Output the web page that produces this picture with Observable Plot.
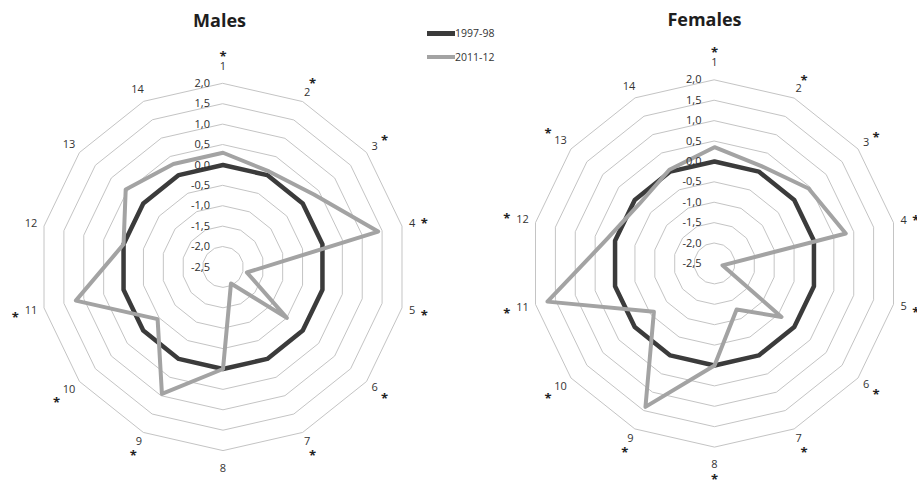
<!DOCTYPE html>
<html><head><meta charset="utf-8">
<script src="https://cdn.jsdelivr.net/npm/d3@7"></script>
<script src="https://cdn.jsdelivr.net/npm/@observablehq/plot@0.6"></script>
<style>
body{margin:0;background:#fff;}
#wrap{position:relative;width:917px;height:481px;font-family:"Open Sans",sans-serif;overflow:hidden;}
#wrap svg{position:absolute;left:0;top:0;}
.title{position:absolute;font-weight:bold;font-size:18px;line-height:18px;color:#1e1e1e;transform:translateX(-50%);white-space:nowrap;}
.leg{position:absolute;display:flex;align-items:center;height:14px;font-size:10.5px;color:#333;}
.leg span.sw{display:inline-block;width:28px;}
</style></head><body><div id="wrap"></div>
<script>
// ---- data ----
const axes = ["1","2","3","4","5","6","7","8","9","10","11","12","13","14"];
const ticks = [2.0, 1.5, 1.0, 0.5, 0.0, -0.5, -1.0, -1.5, -2.0, -2.5];
const seriesNames = ["1997-98", "2011-12"];
const males9798   = [0,0,0,0,0,0,0,0,0,0,0,0,0,0];
const males1112   = [0.3, 0.1, 0.35, 1.4, -1.9, -0.5, -2.05, 0.0, 0.95, -0.45, 1.2, 0.0, 0.55, 0.3];
const females9798 = [0,0,0,0,0,0,0,0,0,0,0,0,0,0];
const females1112 = [0.35, 0.15, 0.45, 0.8, -2.3, -0.4, -1.25, 0.0, 1.4, -0.6, 1.7, 0.2, -0.15, 0.05];
const malesStars   = ["1","2","3","4","5","6","7","9","10","11"];
const femalesStars = ["1","2","3","4","5","6","7","8","9","10","11","12","13"];

// ---- layout ----
const W = 917, H = 481;
const k = 40.8;                 // px per unit
const rMin = -2.5, rMax = 2.0;
const refX = 222.5, refY = 266.5;
const panels = [
  {name:"Males",   cx:222.5, cy:266.5, data:[males9798, males1112],   stars:malesStars},
  {name:"Females", cx:714,   cy:263,   data:[females9798, females1112], stars:femalesStars}
];
const n = axes.length;
const ang = i => i * 2 * Math.PI / n;
const X = (p, r, i) => (p.cx - refX) / k + r * Math.sin(ang(i));
const Y = (p, r, i) => (refY - p.cy) / k + r * Math.cos(ang(i));
// label distance (px) from centre: vertical axes sit a little further out, two-digit labels too
const labelPx = (a, i) => 194 + 3 * (a.length - 1) + (Math.abs(Math.sin(ang(i))) < 0.01 ? 7 : 0);

const rings = [], lines = [], tickLabels = [], catLabels = [], stars = [];
for (const p of panels) {
  for (const t of ticks) {
    if (t === rMin) continue;
    axes.forEach((a, i) => rings.push({x: X(p, t - rMin, i), y: Y(p, t - rMin, i), z: p.name + t}));
  }
  p.data.forEach((vals, s) => {
    vals.forEach((v, i) => lines.push({x: X(p, v - rMin, i), y: Y(p, v - rMin, i), z: p.name, series: seriesNames[s]}));
  });
  for (const t of ticks) {
    tickLabels.push({x: X(p, 0, 0), y: Y(p, t - rMin, 0), text: t.toFixed(1).replace(".", ",")});
  }
  axes.forEach((a, i) => {
    const lr = labelPx(a, i) / k;
    catLabels.push({x: X(p, lr, i), y: Y(p, lr, i), text: a});
    if (p.stars.includes(a)) {
      const rr = (labelPx(a, i) + (a.length === 1 ? 12.5 : 16)) / k;
      stars.push({x: X(p, rr, i), y: Y(p, rr, i)});
    }
  });
}

const plot = Plot.plot({
  width: W, height: H, margin: 0,
  x: {domain: [-refX / k, (W - refX) / k], axis: null},
  y: {domain: [(refY - H) / k, refY / k], axis: null},
  style: {fontFamily: '"Open Sans", sans-serif', background: "transparent"},
  marks: [
    Plot.line(rings, {x: "x", y: "y", z: "z", curve: "linear-closed", stroke: "#c4c4c4", strokeWidth: 1}),
    Plot.line(lines.filter(d => d.series === "1997-98"), {x: "x", y: "y", z: "z", curve: "linear-closed", stroke: "#3b3b3b", strokeWidth: 4.5}),
    Plot.line(lines.filter(d => d.series === "2011-12"), {x: "x", y: "y", z: "z", curve: "linear-closed", stroke: "#a3a3a3", strokeWidth: 4}),
    Plot.text(tickLabels, {x: "x", y: "y", text: "text", textAnchor: "end", dx: -13, fontSize: 11, fill: "#2e2e2e"}),
    Plot.text(catLabels, {x: "x", y: "y", text: "text", fontSize: 11, fill: "#333"}),
    Plot.text(stars, {x: "x", y: "y", text: () => "*", dy: 3, fontSize: 13, fontWeight: "bold", fill: "#222"})
  ]
});

const wrap = document.getElementById("wrap");
wrap.appendChild(plot);

// titles
[["Males", 219.5, 11], ["Females", 704.5, 10]].forEach(([t, x, y]) => {
  const d = document.createElement("div");
  d.className = "title"; d.textContent = t;
  d.style.left = x + "px"; d.style.top = y + "px";
  wrap.appendChild(d);
});
// legend
[["1997-98", "#3b3b3b", 5, 26], ["2011-12", "#a3a3a3", 4, 50]].forEach(([t, c, h, y]) => {
  const d = document.createElement("div");
  d.className = "leg"; d.style.left = "427px"; d.style.top = y + "px";
  const sw = document.createElement("span");
  sw.className = "sw"; sw.style.height = h + "px"; sw.style.background = c;
  const tx = document.createElement("span"); tx.textContent = t;
  d.appendChild(sw); d.appendChild(tx);
  wrap.appendChild(d);
});
</script>
</body></html>
